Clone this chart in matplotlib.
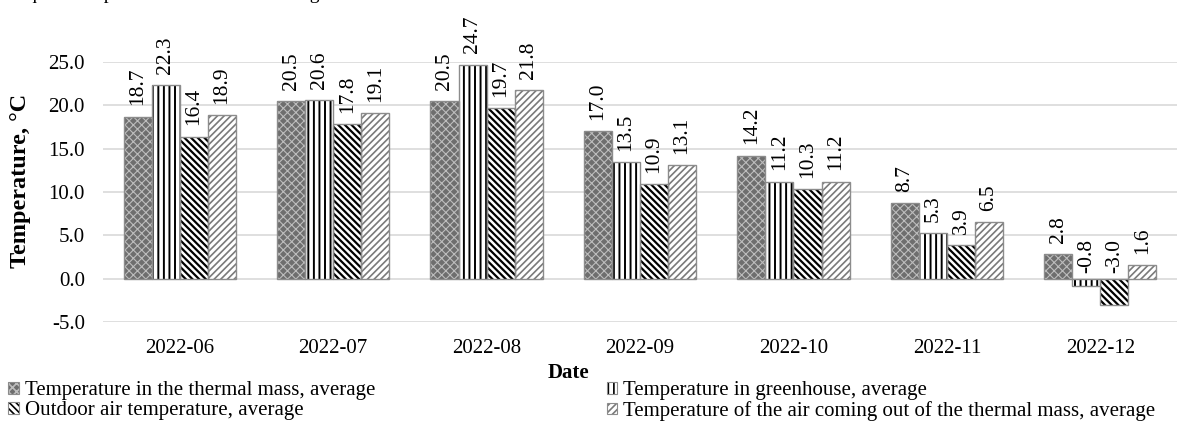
import matplotlib
matplotlib.use("Agg")
import matplotlib.pyplot as plt
import numpy as np
from matplotlib.patches import Patch

plt.rcParams['font.family'] = ['Liberation Serif', 'DejaVu Serif']

# --- data ---
dates = ["2022-06", "2022-07", "2022-08", "2022-09", "2022-10", "2022-11", "2022-12"]
thermal_mass = [18.7, 20.5, 20.5, 17.0, 14.2, 8.7, 2.8]
greenhouse = [22.3, 20.6, 24.7, 13.5, 11.2, 5.3, -0.8]
outdoor = [16.4, 17.8, 19.7, 10.9, 10.3, 3.9, -3.0]
air_out = [18.9, 19.1, 21.8, 13.1, 11.2, 6.5, 1.6]
series_names = [
    "Temperature in the thermal mass, average",
    "Temperature in greenhouse, average",
    "Outdoor air temperature, average",
    "Temperature of the air coming out of the thermal mass, average",
]
yticks = [-5.0, 0.0, 5.0, 10.0, 15.0, 20.0, 25.0]

# --- styles: (face, hatch, hatch colour, hatch width) ---
styles = [
    ("#6e6e6e", "xxxx", "#bdbdbd", 0.8),
    ("white", "|||", "black", 1.4),
    ("white", "\\\\\\\\\\", "black", 1.6),
    ("white", "/////", "#7a7a7a", 1.2),
]

fig = plt.figure(figsize=(11.87, 4.33), dpi=100)
ax = fig.add_axes([0.0868, 0.2564, 0.9048, 0.6004])

x = np.arange(len(dates))
w = 0.183
all_series = [thermal_mass, greenhouse, outdoor, air_out]
handles = []
for i, vals in enumerate(all_series):
    face, hatch, hcol, hlw = styles[i]
    plt.rcParams['hatch.linewidth'] = hlw
    pos = x + (i - 1.5) * w
    ax.bar(pos, vals, w, color=face, edgecolor=hcol, hatch=hatch, linewidth=0, zorder=3)
    ax.bar(pos, vals, w, fill=False, edgecolor="#8c8c8c", linewidth=1.0, zorder=4)
    handles.append((Patch(facecolor=face, edgecolor=hcol, hatch=hatch, linewidth=0),
                    Patch(fill=False, edgecolor="#8c8c8c", linewidth=0.8)))
    for p, v in zip(pos, vals):
        off = 8 if v >= 0 else 4
        ax.annotate(f"{v:.1f}", (p, max(v, 0)), xytext=(0, off), textcoords="offset points",
                    rotation=90, ha="center", va="bottom", fontsize=15.5, zorder=5,
                    annotation_clip=False)

ax.set_xlim(-0.5, len(dates) - 0.5)
ax.set_ylim(-5, 25)
ax.set_yticks(yticks)
ax.set_yticklabels([f"{t:.1f}" for t in yticks], fontsize=15)
ax.set_xticks(x)
ax.set_xticklabels(dates, fontsize=15)
ax.tick_params(axis="y", length=0, pad=13)
ax.tick_params(axis="x", length=0, pad=12)
ax.grid(axis="y", color="#d9d9d9", linewidth=1.2, zorder=0)
for s in ax.spines.values():
    s.set_visible(False)

fig.text(21 / 1187, 1 - 181 / 433, "Temperature, °C", fontsize=17.5, fontweight="bold",
         rotation=90, ha="center", va="center")
fig.text(568 / 1187, 1 - 373 / 433, "Date", fontsize=15, fontweight="bold",
         ha="center", va="center")

# top text cut by the figure edge, as in the source page
fig.text(0.0, 1 + 1 / 433, "adequate temperature in the researched greenhouse.",
         fontsize=14, va="baseline")

leg_kw = dict(frameon=False, fontsize=15, handlelength=0.5, handleheight=0.5,
              handletextpad=0.3, labelspacing=0.05, borderaxespad=0, borderpad=0)
fig.legend([handles[0], handles[2]], [series_names[0], series_names[2]],
           loc="upper left", bbox_to_anchor=(0.007, 1 - 381 / 433), **leg_kw)
fig.legend([handles[1], handles[3]], [series_names[1], series_names[3]],
           loc="upper left", bbox_to_anchor=(0.511, 1 - 381 / 433), **leg_kw)

fig.savefig("out.png", dpi=100)
